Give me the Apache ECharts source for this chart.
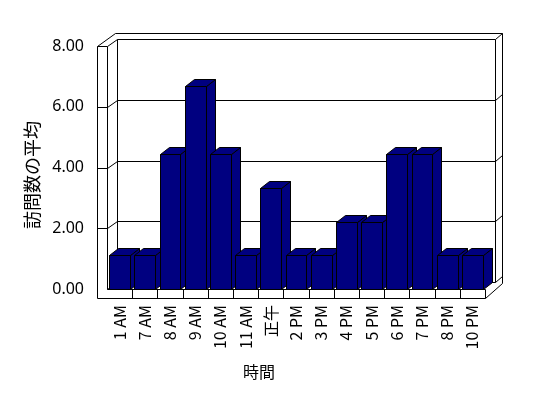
<!DOCTYPE html>
<html>
<head>
<meta charset="utf-8">
<script src="https://cdn.jsdelivr.net/npm/echarts@6/dist/echarts.min.js"></script>
<style>
  html, body { margin: 0; padding: 0; background: #fff; }
  #main { width: 548px; height: 398px; }
</style>
</head>
<body>
<div id="main"></div>
<script>
// 時間帯ごとの訪問数の平均
var hours = ['1 AM', '7 AM', '8 AM', '9 AM', '10 AM', '11 AM', '正午', '2 PM', '3 PM', '4 PM', '5 PM', '6 PM', '7 PM', '8 PM', '10 PM'];
var visitAvg = [1.11, 1.11, 4.44, 6.67, 4.44, 1.11, 3.33, 1.11, 1.11, 2.22, 2.22, 4.44, 4.44, 1.11, 1.11];
var yTicks = [0, 2, 4, 6, 8];

var FONT = '"Noto Sans CJK JP", "Noto Sans", sans-serif';
var BAR = '#000080';

function px(v) { return Math.round(v) + 0.5; }

function seg(x1, y1, x2, y2) {
    return {
        type: 'line',
        shape: { x1: px(x1), y1: px(y1), x2: px(x2), y2: px(y2) },
        style: { stroke: '#000', lineWidth: 1 }
    };
}

// 壁と床（奥行きつき）
function renderFrame(params, api) {
    var cs = params.coordSys;
    var L = cs.x, R = cs.x + cs.width;
    var y0 = api.coord([0, 0])[1];
    var yTop = api.coord([0, yTicks[yTicks.length - 1]])[1];
    var dx = 10, dy = -7;       // 奥の面
    var ox = 17, oy = -6;       // 壁の厚み
    var wall = 10, floorH = 9;
    var c = [];
    // back wall face
    c.push({
        type: 'rect',
        shape: { x: L + dx, y: yTop + dy, width: R - L, height: y0 - yTop },
        style: { fill: '#fff' }
    });
    // gridlines on back wall + front wall ticks
    for (var i = 0; i < yTicks.length; i++) {
        var y = api.coord([0, yTicks[i]])[1];
        if (i > 0) c.push(seg(L - wall, y, L, y));
        c.push(seg(L, y, L + dx, y + dy));
        c.push(seg(L + dx, y + dy, R + dx, y + dy));
        c.push(seg(R + dx, y + dy, R + dx + 7, y + dy + oy));
    }
    // top edges
    c.push(seg(L - wall, yTop, L - wall + ox + 1, yTop + dy + oy));
    c.push(seg(L - wall + ox + 1, yTop + dy + oy, R + dx + 7, yTop + dy + oy));
    // left wall
    c.push(seg(L - wall, yTop, L - wall, y0 + floorH));
    c.push(seg(L, yTop, L, y0));
    c.push(seg(L + dx, yTop + dy, L + dx, y0 + dy));
    // right wall edge
    c.push(seg(R + dx, yTop + dy, R + dx, y0 + dy));
    c.push(seg(R + dx + 7, yTop + dy + oy, R + dx + 7, y0 + dy + 1));
    // floor
    c.push(seg(L, y0, R, y0));
    c.push(seg(L - wall, y0 + floorH, R, y0 + floorH));
    c.push(seg(R, y0, R, y0 + floorH));
    c.push(seg(R, y0 + floorH, R + dx + 7, y0 + dy + 1));
    // category ticks on floor front
    var band = api.size([1, 0])[0];
    for (var k = 1; k < hours.length; k++) {
        var x = L + band * k;
        c.push(seg(x, y0, x, y0 + floorH));
    }
    return { type: 'group', children: c };
}

function renderBar(params, api) {
    var top = api.coord([api.value(0), api.value(1)]);
    var base = api.coord([api.value(0), 0]);
    var w = api.size([1, 0])[0] * 0.83;
    var x0 = Math.round(top[0] - w / 2) + 0.5, x1 = Math.round(top[0] + w / 2) + 0.5;
    var yt = Math.round(top[1]) + 0.5, yb = Math.round(base[1]) + 0.5;
    var dx = 9, dy = -7;
    var st = { fill: BAR, stroke: '#000', lineWidth: 1 };
    return {
        type: 'group',
        children: [
            { type: 'polygon', shape: { points: [[x1, yt], [x1 + dx, yt + dy], [x1 + dx, yb + dy], [x1, yb]] }, style: st },
            { type: 'polygon', shape: { points: [[x0, yt], [x1, yt], [x1 + dx, yt + dy], [x0 + dx, yt + dy]] }, style: st },
            { type: 'rect', shape: { x: x0, y: yt, width: x1 - x0, height: yb - yt }, style: st }
        ]
    };
}

var barData = [];
for (var i = 0; i < hours.length; i++) {
    barData.push([i, visitAvg[i]]);
}

var myChart = echarts.init(document.getElementById('main'));
var option = {
    backgroundColor: '#fff',
    animation: false,
    grid: { left: 107, right: 63, top: 46, bottom: 109 },
    xAxis: {
        type: 'category',
        data: hours,
        name: '時間',
        nameLocation: 'middle',
        nameGap: 75,
        nameTextStyle: { color: '#000', fontSize: 16, fontFamily: FONT, padding: [0, 74, 0, 0] },
        axisLine: { show: false },
        axisTick: { show: false },
        axisLabel: { interval: 0, rotate: 90, margin: 16, color: '#000', fontSize: 16, fontFamily: FONT }
    },
    yAxis: {
        type: 'value',
        min: 0,
        max: 8,
        interval: 2,
        name: '訪問数の平均',
        nameLocation: 'middle',
        nameRotate: 90,
        nameGap: 65,
        nameTextStyle: { color: '#000', fontSize: 18, fontFamily: FONT, padding: [0, 15, 0, 0] },
        axisLine: { show: false },
        axisTick: { show: false },
        splitLine: { show: false },
        axisLabel: {
            margin: 23, color: '#000', fontSize: 16, fontFamily: '"Noto Sans", sans-serif',
            formatter: function (v) { return v.toFixed(2); }
        }
    },
    series: [
        {
            type: 'custom',
            name: 'frame',
            clip: false,
            silent: true,
            renderItem: renderFrame,
            data: [[0, 0]],
            z: 1
        },
        {
            type: 'custom',
            name: '訪問数の平均',
            clip: false,
            renderItem: renderBar,
            encode: { x: 0, y: 1 },
            data: barData,
            z: 2
        }
    ]
};
myChart.setOption(option);
</script>
</body>
</html>
